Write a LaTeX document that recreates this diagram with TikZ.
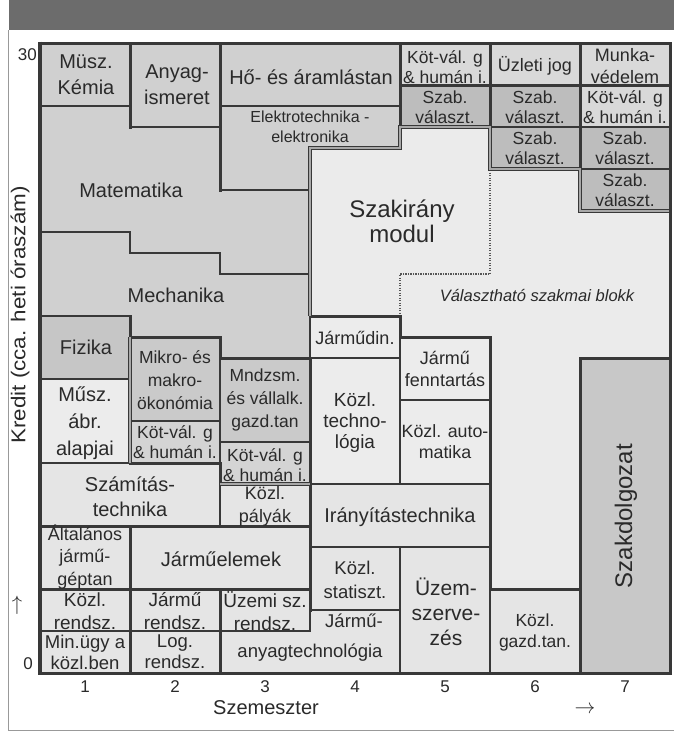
\documentclass[tikz,border=0pt]{standalone}
\usepackage{fontspec}
\setmainfont{Liberation Sans}
\usepackage{graphicx}
\definecolor{hdr}{HTML}{6C6C6C}
\definecolor{midg}{HTML}{D0D0D0}
\definecolor{fizg}{HTML}{C6C6C6}
\definecolor{ecog}{HTML}{CACACA}
\definecolor{kotg}{HTML}{D4D4D4}
\definecolor{lig}{HTML}{E5E5E5}
\definecolor{vlig}{HTML}{ECECEC}
\definecolor{regg}{HTML}{EBEBEB}
\definecolor{szabg}{HTML}{BDBDBD}
\definecolor{topg}{HTML}{D9D9D9}
\definecolor{szdg}{HTML}{C8C8C8}
\definecolor{lnc}{HTML}{383838}
\definecolor{txc}{HTML}{2A2A2A}
\definecolor{dblin}{HTML}{A8A8A8}
\begin{document}
\begin{tikzpicture}[x=1pt,y=-1pt,
  cell/.style={draw=lnc,line width=2pt},
  thk/.style={draw=lnc,line width=3pt,line cap=rect},
  dbl/.style={draw=lnc,double=dblin,double distance=1.1pt,line width=1.3pt},
  lbl/.style={text=txc,align=center,inner sep=0pt},
  fs/.style={lbl,font=\fontsize{17.5}{20}\selectfont},
  fr/.style={lbl,font=\fontsize{19}{23.5}\selectfont},
  fm/.style={lbl,font=\fontsize{20}{26}\selectfont},
  fl/.style={lbl,font=\fontsize{24}{25}\selectfont},
  ax/.style={lbl,font=\fontsize{17}{20}\selectfont}]
\path[use as bounding box] (0,0) rectangle (674,732);
\fill[white] (0,0) rectangle (674,732);
\fill[hdr] (9,0) rectangle (674,30);
\draw[gray!80,line width=1pt] (8,30) -- (8,730.5) -- (674,730.5);

% light region (Szakirany + Valaszthato)
\fill[regg] (310,148) -- (400,148) -- (400,127) -- (490,127) -- (490,169) -- (580,169) -- (580,211) -- (670,211) -- (670,358) -- (580,358) -- (580,589) -- (490,589) -- (490,337) -- (400,337) -- (400,316) -- (310,316) -- cycle;

% left gray block
\filldraw[cell,fill=midg] (40,43) rectangle (130,106);
\filldraw[cell,fill=midg] (130,43) rectangle (220,127);
\filldraw[cell,fill=midg] (220,43) rectangle (400,106);
\filldraw[cell,fill=midg] (220,106) -- (400,106) -- (400,148) -- (310,148) -- (310,190) -- (220,190) -- cycle;
\filldraw[cell,fill=midg] (40,106) -- (130,106) -- (130,127) -- (220,127) -- (220,190) -- (310,190) -- (310,274) -- (220,274) -- (220,253) -- (130,253) -- (130,232) -- (40,232) -- cycle;
\filldraw[cell,fill=midg] (40,232) -- (130,232) -- (130,253) -- (220,253) -- (220,274) -- (310,274) -- (310,358) -- (220,358) -- (220,337) -- (130,337) -- (130,316) -- (40,316) -- cycle;
\filldraw[cell,fill=fizg] (40,316) rectangle (130,379);
\filldraw[cell,fill=ecog] (130,337) rectangle (220,421);
\filldraw[cell,fill=kotg] (130,421) rectangle (220,463);
\filldraw[cell,fill=ecog] (220,358) rectangle (310,442);
\filldraw[cell,fill=kotg] (220,442) rectangle (310,484);

% lower light cells
\filldraw[cell,fill=vlig] (40,379) rectangle (130,463);
\filldraw[cell,fill=lig] (40,463) rectangle (220,526);
\filldraw[cell,fill=lig] (220,484) rectangle (310,526);
\filldraw[cell,fill=lig] (40,526) rectangle (130,589);
\filldraw[cell,fill=lig] (130,526) rectangle (310,589);
\filldraw[cell,fill=lig] (40,589) rectangle (130,631);
\filldraw[cell,fill=lig] (130,589) rectangle (220,631);
\filldraw[cell,fill=lig] (220,589) rectangle (310,631);
\filldraw[cell,fill=lig] (40,631) rectangle (130,673);
\filldraw[cell,fill=lig] (130,631) rectangle (220,673);
\filldraw[cell,fill=lig] (220,631) -- (310,631) -- (310,610) -- (400,610) -- (400,673) -- (220,673) -- cycle;
\filldraw[cell,fill=lig] (310,547) rectangle (400,610);
\filldraw[cell,fill=lig] (310,484) rectangle (490,547);
\filldraw[cell,fill=lig] (400,547) rectangle (490,673);
\filldraw[cell,fill=vlig] (310,358) rectangle (400,484);
\filldraw[cell,fill=vlig] (310,316) rectangle (400,358);
\filldraw[cell,fill=vlig] (400,337) rectangle (490,400);
\filldraw[cell,fill=vlig] (400,400) rectangle (490,484);
\filldraw[cell,fill=lig] (490,589) rectangle (580,673);
\filldraw[cell,fill=szdg] (580,358) rectangle (670,673);

% top right staircase
\filldraw[cell,fill=topg] (400,43) rectangle (490,85);
\filldraw[cell,fill=szabg] (400,85) rectangle (490,127);
\filldraw[cell,fill=topg] (490,43) rectangle (580,85);
\filldraw[cell,fill=szabg] (490,85) rectangle (580,127);
\filldraw[cell,fill=szabg] (490,127) rectangle (580,169);
\filldraw[cell,fill=topg] (580,43) rectangle (670,85);
\filldraw[cell,fill=topg] (580,85) rectangle (670,127);
\filldraw[cell,fill=szabg] (580,127) rectangle (670,169);
\filldraw[cell,fill=szabg] (580,169) rectangle (670,211);

% dotted separation Szakirany / Valaszthato
\draw[lnc!85,line width=1.6pt,dash pattern=on 1.2pt off 1.3pt] (490,170) -- (490,274) -- (400,274) -- (400,316);

% thick group borders
\draw[thk] (130,43) -- (130,127);
\draw[thk] (220,43) -- (220,190);
\draw[thk] (400,43) -- (400,127);
\draw[thk] (490,43) -- (490,169);
\draw[thk] (580,43) -- (580,211);
\draw[thk] (400,85) -- (670,85);
\draw[thk] (130,316) -- (130,379);
\draw[thk] (130,337) -- (220,337) -- (220,358) -- (310,358);
\draw[thk] (130,463) -- (220,463) -- (220,484);
\draw[thk] (40,526) -- (310,526);
\draw[thk] (40,589) -- (310,589);
\draw[thk] (130,526) -- (130,673);
\draw[thk] (220,589) -- (220,673);
\draw[thk] (310,358) -- (310,610);
\draw[thk] (310,316) -- (400,316) -- (400,337) -- (490,337) -- (490,589) -- (580,589);
\draw[thk] (580,358) -- (670,358);
\draw[thk] (580,358) -- (580,673);
\draw[dbl] (130,337) -- (130,463);
\draw[dbl] (220,484) -- (310,484);

% outline of the light region
\draw[dbl] (310,316) -- (310,148) -- (400,148) -- (400,127) -- (490,127) -- (490,169) -- (580,169) -- (580,211) -- (670,211);

% outer frame
\draw[draw=lnc,line width=3pt] (40,43) rectangle (670,673);
\draw[draw=lnc,line width=4.5pt] (40,41.5) -- (40,674.5);

% labels
\node[fm] (musz) at (86,75) {Müsz.\\Kémia};
\node[fm] (anyag) at (177,85) {Anyag-\\ismeret};
\node[fm] (ho) at (311,77) {Hő- és áramlástan};
\node[lbl,font=\fontsize{16}{20}\selectfont] (elek) at (310,127) {Elektrotechnika -\\elektronika};
\node[fs] (kot5) at (445,67) {Köt-vál. g\\\& humán i.};
\node[lbl,font=\fontsize{18}{20}\selectfont] (uzl) at (535,66) {Üzleti jog};
\node[lbl,font=\fontsize{18}{22}\selectfont] (munka) at (625,66) {Munka-\\védelem};
\node[fs] (szab5) at (445,107) {Szab.\\választ.};
\node[fs] (szab6a) at (535,107) {Szab.\\választ.};
\node[fs] (szab6b) at (535,148) {Szab.\\választ.};
\node[fs] (kot7) at (625,107) {Köt-vál. g\\\& humán i.};
\node[fs] (szab7a) at (625,148) {Szab.\\választ.};
\node[fs] (szab7b) at (625,190) {Szab.\\választ.};
\node[fm] (mat) at (131,190) {Matematika};
\node[fm] (mech) at (176,295) {Mechanika};
\node[fl] (szakir) at (402,221) {Szakirány\\modul};
\node[lbl,font=\fontsize{16.5}{20}\selectfont\itshape] (valaszt) at (537,295) {Választható szakmai blokk};
\node[fm] (fiz) at (86,347) {Fizika};
\node[lbl,font=\fontsize{17.5}{23}\selectfont] (mikro) at (175,380) {Mikro- és\\makro-\\ökonómia};
\node[fs] (kot2) at (175,442) {Köt-vál. g\\\& humán i.};
\node[lbl,font=\fontsize{17.5}{23}\selectfont] (mndzsm) at (265,400) {Mndzsm.\\és vállalk.\\gazd.tan};
\node[fs] (kot3) at (265,465) {Köt-vál. g\\\& humán i.};
\node[lbl,font=\fontsize{20}{27}\selectfont] (muszabr) at (85,423) {Műsz.\\ábr.\\alapjai};
\node[lbl,font=\fontsize{20}{25}\selectfont] (szam) at (130,497) {Számítás-\\technika};
\node[lbl,font=\fontsize{18}{23}\selectfont] (kozlp) at (265,506) {Közl.\\pályák};
\node[lbl,font=\fontsize{18}{22.5}\selectfont] (alt) at (85,557) {Általános\\jármű-\\géptan};
\node[fm] (jelem) at (221,559) {Járműelemek};
\node[fr] (kozlr) at (85,611) {Közl.\\rendsz.};
\node[fr] (jr) at (175,611) {Jármű\\rendsz.};
\node[fr] (uzemi) at (265,611) {Üzemi sz.\\rendsz.};
\node[lbl,font=\fontsize{18.5}{21}\selectfont] (minugy) at (85,652) {Min.ügy a\\közl.ben};
\node[lbl,font=\fontsize{18.5}{21}\selectfont] (logr) at (175,652) {Log.\\rendsz.};
\node[lbl,font=\fontsize{18.5}{21}\selectfont] (jarmu4) at (354,621) {Jármű-};
\node[lbl,font=\fontsize{18.5}{21}\selectfont] (anyagt) at (310,653) {anyagtechnológia};
\node[lbl,font=\fontsize{18.5}{24}\selectfont] (kozls) at (355,580) {Közl.\\statiszt.};
\node[fm] (irany) at (400,517) {Irányítástechnika};
\node[lbl,font=\fontsize{21}{25}\selectfont] (uzem) at (446,612) {Üzem-\\szerve-\\zés};
\node[lbl,font=\fontsize{17.5}{21}\selectfont] (kozlg) at (535,632) {Közl.\\gazd.tan.};
\node[lbl,font=\fontsize{18}{20}\selectfont] (jdin) at (355,338) {Járműdin.};
\node[lbl,font=\fontsize{19}{21}\selectfont] (kozlt) at (355,423) {Közl.\\techno-\\lógia};
\node[lbl,font=\fontsize{18}{22}\selectfont] (jf) at (445,369) {Jármű\\fenntartás};
\node[lbl,font=\fontsize{17.8}{21}\selectfont] (kozla) at (445,442) {Közl. auto-\\matika};
\node[lbl,font=\fontsize{24}{26}\selectfont,rotate=90] (szd) at (626,516) {Szakdolgozat};

% axes
\node[ax,anchor=east] (y30) at (37,55) {30};
\node[ax,anchor=east] (y0) at (33,664) {0};
\node[lbl,font=\fontsize{20}{22}\selectfont] (uparr) at (17,605) {$\uparrow$};
\node[ax] (s1) at (85,687) {1};
\node[ax] (s2) at (175,687) {2};
\node[ax] (s3) at (265,687) {3};
\node[ax] (s4) at (355,687) {4};
\node[ax] (s5) at (445,687) {5};
\node[ax] (s6) at (535,687) {6};
\node[ax] (s7) at (625,687) {7};
\node[fm] (szem) at (266,708) {Szemeszter};
\node[lbl,font=\fontsize{20}{22}\selectfont] (rarr) at (585,710) {$\rightarrow$};
\node[lbl,font=\fontsize{20}{22}\selectfont,rotate=90] (ylab) at (20,315) {\scalebox{1.12}[1]{Kredit (cca. heti óraszám)}};
\end{tikzpicture}
\end{document}
